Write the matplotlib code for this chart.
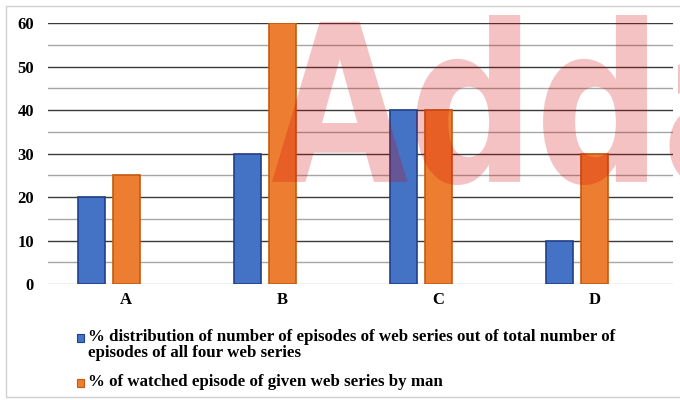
import numpy as np
import matplotlib.pyplot as plt
from matplotlib.patches import Rectangle, PathPatch
from matplotlib.textpath import TextPath
from matplotlib.font_manager import FontProperties
from matplotlib.transforms import Affine2D, IdentityTransform

# dados
categorias = ["A", "B", "C", "D"]
distribuicao = [20, 30, 40, 10]
assistidos = [25, 60, 40, 30]
legenda = [
    "% distribution of number of episodes of web series out of total number of\nepisodes of all four web series",
    "% of watched episode of given web series by man",
]

azul = "#4472C4"
laranja = "#ED7D31"
fonte = "Liberation Serif"

fig = plt.figure(figsize=(6.8, 4), dpi=100)
ax = fig.add_axes([48 / 680, 116 / 400, 625 / 680, 261 / 400])

x = np.arange(len(categorias))
largura = 27 / 156
passo = 35 / 156

ax.bar(x - passo, distribuicao, largura, color=azul, edgecolor="#22408A",
       linewidth=1.2, zorder=3)
ax.bar(x, assistidos, largura, color=laranja, edgecolor="#C55A11",
       linewidth=1.2, zorder=3)

ax.set_xlim(-0.5, len(categorias) - 0.5)
ax.set_ylim(0, 60)
ax.set_yticks(np.arange(0, 61, 10))
ax.set_xticks(x)
ax.set_xticklabels(categorias)

# linhas de grade
for v in np.arange(10, 61, 10):
    ax.axhline(v, color="#3a3a3a", linewidth=1.0, zorder=1)
for v in np.arange(5, 60, 10):
    ax.axhline(v, color="#a6a6a6", linewidth=1.0, zorder=1)
ax.axhline(0, color="#bfbfbf", linewidth=1.0, zorder=2)

for s in ax.spines.values():
    s.set_visible(False)
ax.tick_params(axis="both", which="both", length=0)
ax.tick_params(axis="y", pad=10)
ax.tick_params(axis="x", pad=6)
for lbl in ax.get_xticklabels() + ax.get_yticklabels():
    lbl.set_fontfamily(fonte)
    lbl.set_fontweight("bold")
    lbl.set_fontsize(12)

# legenda manual
cores = [(azul, "#22408A"), (laranja, "#C55A11")]
ys = [338, 383]
for (c, e), y, txt in zip(cores, ys, legenda):
    fig.add_artist(Rectangle((77 / 680, (400 - y - 4) / 400), 7 / 680, 8 / 400,
                             transform=fig.transFigure, facecolor=c,
                             edgecolor=e, linewidth=0.8))
    fig.text(88 / 680, (400 - y + 9) / 400, txt, family=fonte,
             weight="bold", fontsize=12.2, va="top", ha="left",
             linespacing=1.0)

# borda externa
fig.add_artist(Rectangle((6 / 680, 3 / 400), 700 / 680, 391 / 400,
                         transform=fig.transFigure, facecolor="none",
                         edgecolor="#d0d0d0", linewidth=1.0))

# marca d'agua
fp = FontProperties(family="DejaVu Sans", weight="bold")
ref = TextPath((0, 0), "Add", size=1, prop=fp)
ext = ref.get_extents()
sx = (647 - 272) / ext.width
sy = (385 - 215) / ext.height
tr = Affine2D().translate(-ext.x0, -ext.y0).scale(sx, sy).translate(272, 215)
marca = TextPath((0, 0), "Adda", size=1, prop=fp)
fig.add_artist(PathPatch(tr.transform_path(marca), transform=IdentityTransform(),
                         facecolor="#d40000", edgecolor="none", alpha=0.24,
                         zorder=10))

fig.savefig("out.png", dpi=100)
